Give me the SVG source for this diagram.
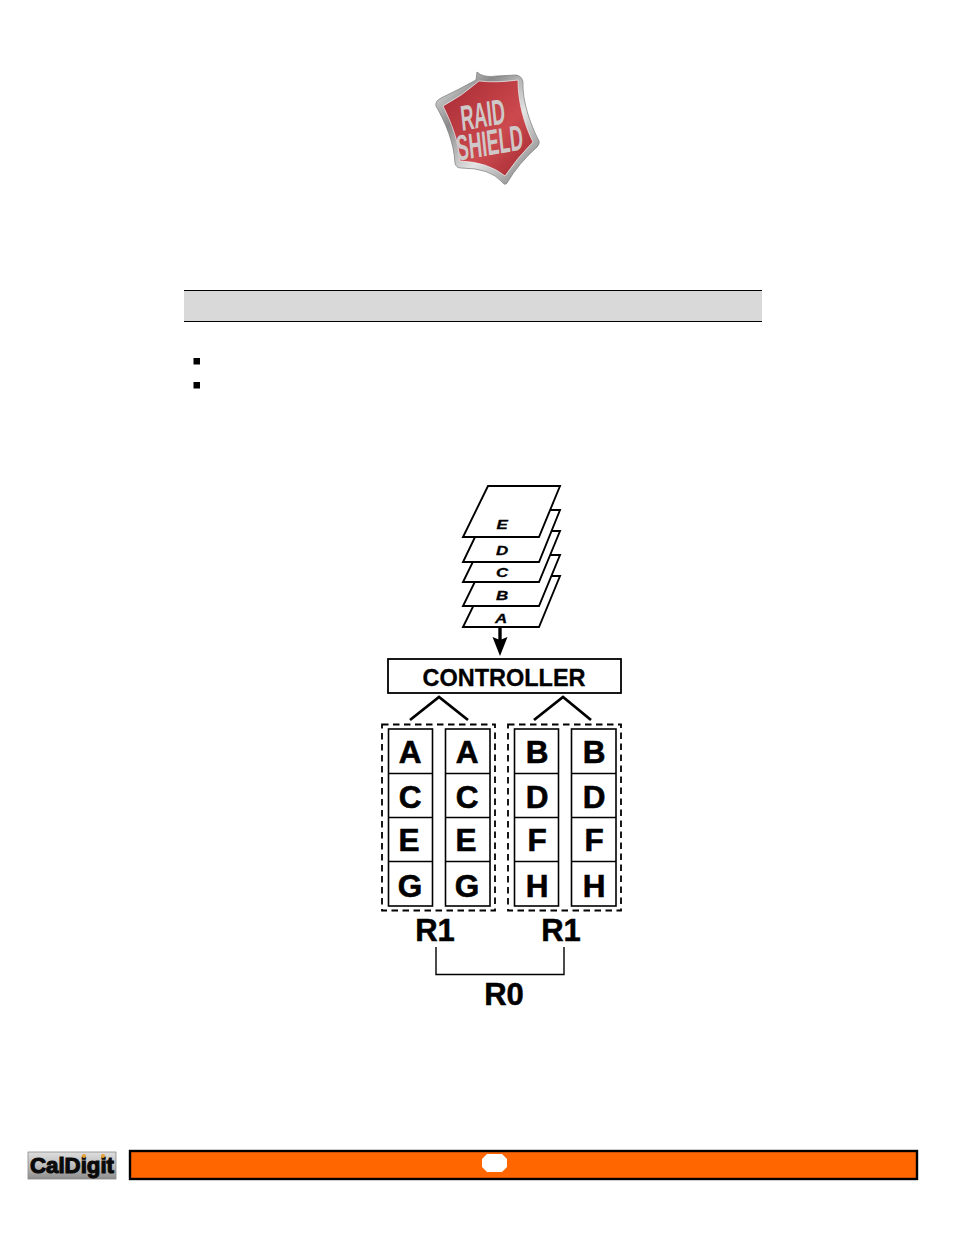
<svg xmlns="http://www.w3.org/2000/svg" width="954" height="1235" viewBox="0 0 954 1235">
<style>
.page{fill:#fff;stroke:#000;stroke-width:1.9;stroke-linejoin:miter}
.pl{font:italic bold 13px "Liberation Sans",Arial,sans-serif;text-anchor:middle;fill:#000;stroke:#000;stroke-width:.3}
.cell{fill:#fff;stroke:#000;stroke-width:1.6}
.cl{font:bold 31.500px "Liberation Sans",Arial,sans-serif;text-anchor:middle;fill:#000;stroke:#000;stroke-width:.6}
.rl{font:bold 31px "Liberation Sans",Arial,sans-serif;text-anchor:middle;fill:#000;stroke:#000;stroke-width:.5}
.dash{fill:none;stroke:#000;stroke-width:1.8;stroke-dasharray:6.5 4.5}
.line{fill:none;stroke:#000;stroke-width:2.8}
.thin{fill:none;stroke:#000;stroke-width:1.4}
.sh{font:bold 27px "Liberation Sans",Arial,sans-serif;fill:#cfc8c8;text-anchor:middle}
</style>
<defs>
<linearGradient id="rim" x1="0" y1="0" x2="1" y2="1"><stop offset="0" stop-color="#f0f0f0"/><stop offset=".3" stop-color="#8a8a8a"/><stop offset=".6" stop-color="#e4e4e4"/><stop offset="1" stop-color="#6f6f6f"/></linearGradient>
<linearGradient id="red" x1="0" y1="0" x2="1" y2="1"><stop offset="0" stop-color="#a82a34"/><stop offset=".6" stop-color="#cc4a4e"/><stop offset="1" stop-color="#a02830"/></linearGradient>
<linearGradient id="logo" x1="0" y1="0" x2="0" y2="1"><stop offset="0" stop-color="#dedede"/><stop offset=".5" stop-color="#bdbdbd"/><stop offset="1" stop-color="#8d8d8d"/></linearGradient>
</defs>
<rect width="954" height="1235" fill="#fff"/>
<g id="shield">
<path d="M477 72 Q483 78 497 76 L516 75 Q522 76 523 82 C522 100 530 124 539 141 Q540 144 537 147 Q518 164 507 183 Q505 186 502 182 Q490 168 461 168 Q456 168 455 163 C454 142 445 122 436 106 Q435 101 441 98 Q458 90 476 80Z" fill="url(#rim)" stroke="#777" stroke-width=".7"/>
<path d="M479 81 Q496 83 518 80 C518 102 524 124 533 142 Q517 158 505 176 Q488 162 460 161 C459 142 451 122 443 106 Q462 96 479 81Z" fill="url(#red)" stroke="#f2f2f2" stroke-width=".7"/>
<text class="sh" transform="translate(484 127) rotate(-10) skewX(-4) scale(.68 1.32)">RAID</text>
<text class="sh" transform="translate(491 155) rotate(-10) skewX(-4) scale(.68 1.32)">SHIELD</text>
</g>
<g id="header-band">
<rect x="184" y="291" width="578" height="30" fill="#d9d9d9"/>
<path d="M184 290.500H762M184 321.500H762" stroke="#000" stroke-width="1"/>
</g>
<g id="bullets">
<rect x="193.500" y="358" width="6.500" height="6.500" fill="#000"/>
<rect x="193.500" y="382" width="6.500" height="6.500" fill="#000"/>
</g>
<g id="page-a"><path class="page" d="M488 576H560L539 627H463Z"/><text class="pl" transform="translate(501 623) scale(1.3 1)">A</text></g>
<g id="page-b"><path class="page" d="M488 555H560L539 606H463Z"/><text class="pl" transform="translate(502 600) scale(1.3 1)">B</text></g>
<g id="page-c"><path class="page" d="M488 531H560L539 582H463Z"/><text class="pl" transform="translate(502 577) scale(1.3 1)">C</text></g>
<g id="page-d"><path class="page" d="M488 510H560L539 562H463Z"/><text class="pl" transform="translate(502 555) scale(1.3 1)">D</text></g>
<g id="page-e"><path class="page" d="M488 486H560L539 537H463Z"/><text class="pl" transform="translate(502 529) scale(1.3 1)">E</text></g>
<g id="controller">
<rect x="388" y="659" width="233" height="34" fill="#fff" stroke="#000" stroke-width="1.8"/>
<text x="504" y="686" font-family="Liberation Sans,Arial,sans-serif" font-weight="bold" font-size="23.500" text-anchor="middle" stroke="#000" stroke-width=".3">CONTROLLER</text>
</g>
<g id="connectors">
<path d="M500 627V642" stroke="#000" stroke-width="3.400" fill="none"/>
<path d="M492.500 637L500 640L507.500 637L500 656Z" fill="#000"/>
<path class="line" d="M410 720L439 697L468 720"/>
<path class="line" d="M534 720L563 697L591 720"/>
<path class="thin" d="M436 947V974.500H564V947"/>
</g>
<g id="group-r1-left">
<rect class="dash" x="382" y="724.500" width="113" height="186"/>
</g>
<g id="group-r1-right">
<rect class="dash" x="508" y="724.500" width="113" height="186"/>
</g>
<g id="disk-1">
<rect class="cell" x="388.500" y="729" width="44" height="177"/><path class="cell" d="M388.500 773.500H432.500M388.500 817.500H432.500M388.500 861.500H432.500"/>
<text class="cl" x="410" y="763">A</text><text class="cl" x="410" y="808">C</text><text class="cl" x="409" y="851">E</text><text class="cl" x="410" y="897">G</text>
</g>
<g id="disk-2">
<rect class="cell" x="445.500" y="729" width="44.500" height="177"/><path class="cell" d="M445.500 773.500H490M445.500 817.500H490M445.500 861.500H490"/>
<text class="cl" x="467" y="763">A</text><text class="cl" x="467" y="808">C</text><text class="cl" x="466" y="851">E</text><text class="cl" x="467" y="897">G</text>
</g>
<g id="disk-3">
<rect class="cell" x="514.500" y="729" width="44" height="177"/><path class="cell" d="M514.500 773.500H558.500M514.500 817.500H558.500M514.500 861.500H558.500"/>
<text class="cl" x="537" y="763">B</text><text class="cl" x="537" y="808">D</text><text class="cl" x="537" y="851">F</text><text class="cl" x="537" y="897">H</text>
</g>
<g id="disk-4">
<rect class="cell" x="571.500" y="729" width="44.500" height="177"/><path class="cell" d="M571.500 773.500H616M571.500 817.500H616M571.500 861.500H616"/>
<text class="cl" x="594" y="763">B</text><text class="cl" x="594" y="808">D</text><text class="cl" x="594" y="851">F</text><text class="cl" x="594" y="897">H</text>
</g>
<g id="labels">
<text class="rl" x="435" y="941">R1</text>
<text class="rl" x="561" y="941">R1</text>
<text class="rl" x="504" y="1004.500">R0</text>
</g>
<g id="footer">
<rect x="28" y="1152" width="88" height="27" fill="url(#logo)" stroke="#888" stroke-width=".8"/>
<text x="72" y="1173" font-family="Liberation Sans,Arial,sans-serif" font-weight="bold" font-size="22" text-anchor="middle" textLength="84" lengthAdjust="spacingAndGlyphs" fill="#0a0a0a" stroke="#0a0a0a" stroke-width="1.100">CalDigit</text>
<circle cx="84" cy="1156" r="2" fill="#e8a030"/><circle cx="103" cy="1156" r="2" fill="#e8a030"/>
<rect x="130" y="1151" width="787" height="28" fill="#ff6600" stroke="#000" stroke-width="2.400"/>
<path d="M487 1154H502L507 1159V1167L502 1172H487L482 1167V1159Z" fill="#fff"/>
</g>
</svg>
